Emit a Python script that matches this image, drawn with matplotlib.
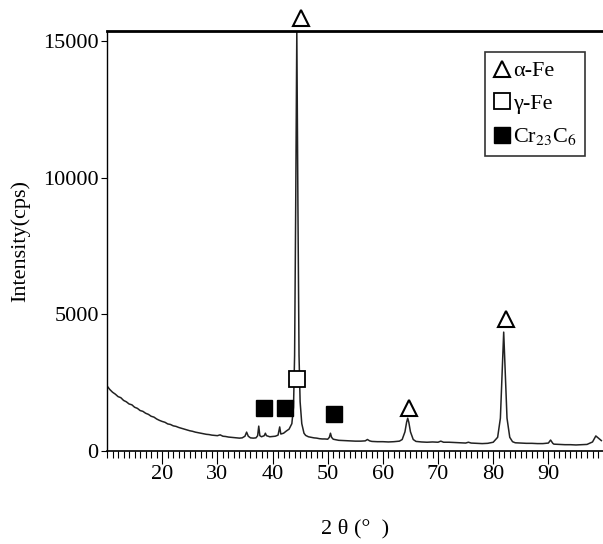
import matplotlib
matplotlib.use("Agg")
import matplotlib.pyplot as plt
from matplotlib.lines import Line2D
from matplotlib.ticker import MultipleLocator

plt.rcParams['font.family'] = ['Liberation Serif', 'DejaVu Serif']
plt.rcParams['mathtext.fontset'] = 'stix'

# XRD pattern (2theta in degrees, intensity in cps)
two_theta = [10.0, 10.5, 11.0, 11.5, 12.0, 12.5, 13.0, 13.5, 14.0, 14.5,
             15.0, 15.5, 16.0, 16.5, 17.0, 17.5, 18.0, 18.5, 19.0, 19.5,
             20.0, 20.5, 21.0, 21.5, 22.0, 22.5, 23.0, 23.5, 24.0, 24.5,
             25.0, 25.5, 26.0, 26.5, 27.0, 27.5, 28.0, 28.5, 29.0, 29.5,
             30.0, 30.5, 31.0, 31.5, 32.0, 32.5, 33.0, 33.5, 34.0, 34.5,
             35.0, 35.3, 35.6, 36.0, 36.5, 37.0, 37.3, 37.5, 37.7, 38.0,
             38.5, 38.7, 38.9, 39.5, 40.0, 40.5, 41.0, 41.3, 41.5, 42.0,
             42.5, 43.0, 43.5, 43.8, 44.0, 44.2, 44.4, 44.6, 44.8, 45.0,
             45.3, 45.7, 46.0, 46.5, 47.0, 47.5, 48.0, 48.5, 49.0, 49.5,
             50.0, 50.3, 50.5, 50.7, 51.0, 51.5, 52.0, 53.0, 54.0, 55.0,
             56.0, 56.8, 57.2, 57.6, 58.0, 59.0, 60.0, 61.0, 62.0, 63.0,
             63.5, 64.0, 64.3, 64.5, 64.7, 65.0, 65.5, 66.0, 67.0, 68.0,
             69.0, 70.0, 70.5, 71.0, 72.0, 73.0, 74.0, 75.0, 75.5, 76.0,
             77.0, 78.0, 79.0, 80.0, 80.8, 81.3, 81.6, 81.9, 82.2, 82.5,
             83.0, 83.5, 84.0, 85.0, 86.0, 87.0, 88.0, 89.0, 90.0, 90.4,
             90.8, 91.0, 92.0, 93.0, 94.0, 95.0, 96.0, 97.0, 98.0, 98.6,
             99.2, 99.6]
intensity = [2380, 2250, 2150, 2080, 1990, 1950, 1850, 1800, 1720, 1690,
             1600, 1560, 1480, 1450, 1380, 1340, 1270, 1240, 1170, 1120,
             1080, 1050, 990, 970, 920, 900, 860, 830, 800, 770,
             740, 720, 690, 670, 650, 630, 610, 600, 580, 570,
             560, 590, 540, 530, 510, 500, 490, 480, 470, 480,
             540, 690, 540, 480, 470, 480, 560, 910, 560, 520,
             560, 650, 560, 520, 530, 540, 580, 880, 620, 650,
             730, 800, 1000, 1600, 3500, 9000, 15400, 9000, 3500, 1800,
             1000, 650, 570, 520, 500, 480, 470, 450, 440, 440,
             430, 500, 650, 500, 430, 410, 390, 380, 370, 360,
             360, 370, 420, 370, 350, 340, 340, 330, 340, 360,
             420, 700, 1050, 1200, 1050, 700, 420, 350, 330, 320,
             330, 320, 360, 320, 320, 310, 300, 290, 320, 290,
             280, 270, 280, 320, 500, 1200, 2800, 4350, 2800, 1200,
             500, 340, 300, 290, 280, 280, 270, 270, 290, 400,
             280, 250, 240, 230, 230, 220, 230, 240, 330, 550,
             450, 380]

# phase markers
alpha_x = [45.1, 64.8, 82.4]
alpha_y = [15840, 1570, 4820]
gamma_x = [44.4]
gamma_y = [2630]
carbide_x = [38.4, 42.2, 51.1]
carbide_y = [1570, 1570, 1350]

fig = plt.figure(figsize=(6.03, 5.44), dpi=100)
ax = fig.add_axes([0.1775, 0.171, 0.8225, 0.772])

ax.plot(two_theta, intensity, color='#222222', lw=1.1)

ax.plot(alpha_x, alpha_y, ls='none', marker='^', ms=12, mfc='white', mec='black', mew=1.5, clip_on=False, zorder=5)
ax.plot(gamma_x, gamma_y, ls='none', marker='s', ms=11, mfc='white', mec='black', mew=1.3, clip_on=False, zorder=5)
ax.plot(carbide_x, carbide_y, ls='none', marker='s', ms=11, mfc='black', mec='black', clip_on=False, zorder=5)

ax.set_xlim(10, 99.9)
ax.set_ylim(0, 15370)
ax.xaxis.set_minor_locator(MultipleLocator(1))
ax.set_xticks([20, 30, 40, 50, 60, 70, 80, 90])
ax.set_yticks([0, 5000, 10000, 15000])
ax.tick_params(axis='x', which='major', direction='out', length=9, width=0.8, labelsize=16, pad=1)
ax.tick_params(axis='x', which='minor', direction='out', length=5, width=0.8)
ax.tick_params(axis='y', direction='out', length=4, width=0.8, labelsize=16, pad=2)

ax.spines['right'].set_visible(False)
ax.spines['top'].set_linewidth(2)
ax.spines['left'].set_linewidth(1)
ax.spines['bottom'].set_linewidth(1.2)

ax.set_ylabel('Intensity(cps)', fontsize=16, labelpad=9)
ax.set_xlabel('2 θ (°  )', fontsize=16, labelpad=25)

handles = [
    Line2D([], [], ls='none', marker='^', ms=12, mfc='white', mec='black', mew=1.5),
    Line2D([], [], ls='none', marker='s', ms=12, mfc='white', mec='black', mew=1.3),
    Line2D([], [], ls='none', marker='s', ms=12, mfc='black', mec='black'),
]
labels = ['α-Fe', 'γ-Fe', 'Cr$_{23}$C$_6$']
leg = ax.legend(handles, labels, loc='upper right', bbox_to_anchor=(0.964, 0.95),
                fontsize=16, frameon=True, fancybox=False, edgecolor='black',
                handlelength=0.75, handletextpad=0.1, labelspacing=0.55,
                borderpad=0.4, borderaxespad=0)
leg.get_frame().set_linewidth(1.2)

fig.savefig('out.png', dpi=100)
